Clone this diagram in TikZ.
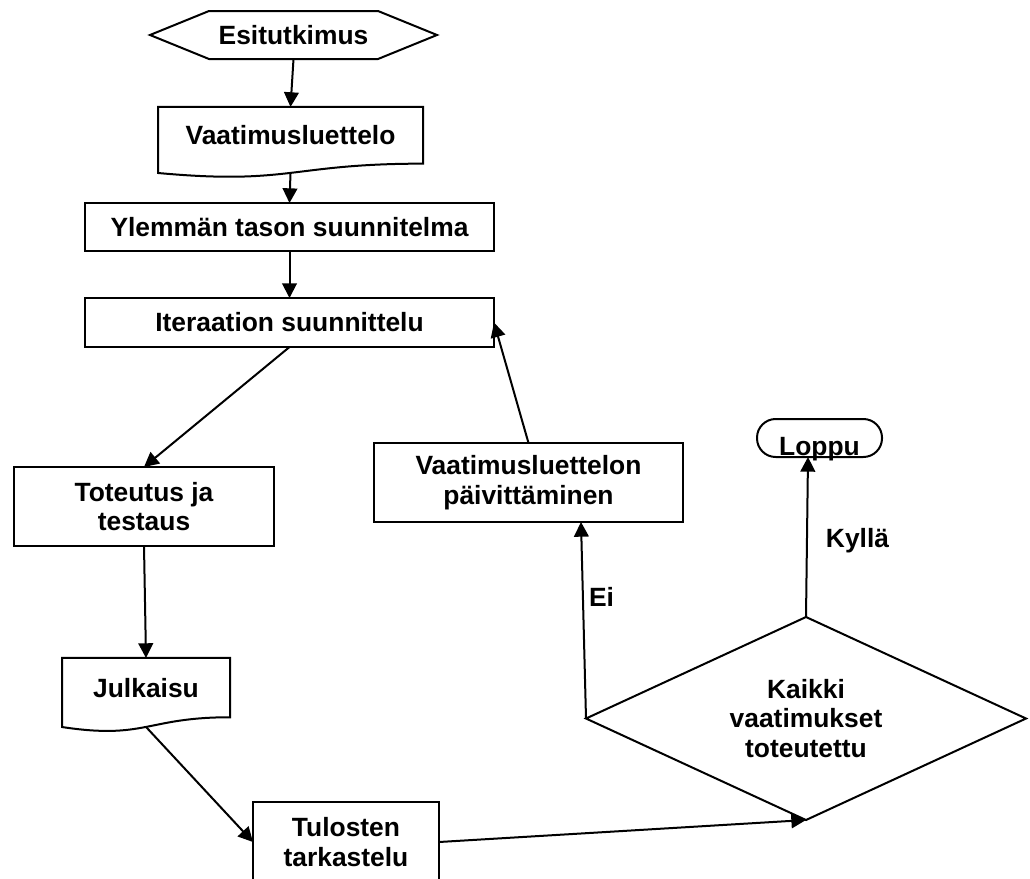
\documentclass[tikz,border=0pt]{standalone}
\usepackage{fontspec}
\setmainfont{Liberation Sans}
\usetikzlibrary{arrows.meta,calc,shapes.geometric}

% one drawing unit = one pixel of the layout grid
\newcommand{\pxu}{0.75pt}

% document symbol: rectangle with a wavy lower edge; #2 names the middle of the wave
\newcommand{\docoutline}[2]{%
  \draw[outline] (#1.north west) -- (#1.north east) -- (#1.south east)
    .. controls (#1.south) and ($(#1.north)!1.380!(#1.south)$)
    .. ($(#1.north west)!1.1646!(#1.south west)$) coordinate[pos=0.5] (#2)
    -- cycle;}

\begin{document}
\begin{tikzpicture}[x=0.75pt, y=-0.75pt,
  txt/.style={rectangle, draw=none, inner sep=0pt, outer sep=0pt, align=center,
    font=\bfseries\fontsize{19.8pt}{22pt}\selectfont},
  outline/.style={draw, line width=1.5pt, line join=miter},
  box/.style={txt, outline},
  decision/.style={txt, outline, diamond, aspect=2.17},
  terminal/.style={txt, outline, rounded corners=14pt},
  arr/.style={draw, line width=1.5pt, -{Triangle[length=11pt,width=11pt]}},
  lbl/.style={txt}]

\useasboundingbox (0,0) rectangle (1030,878);
\fill[white] (0,0) rectangle (1030,878);
\clip (0,0) rectangle (1030,878);

% ---- nodes ----
\node[txt, minimum width=287*\pxu, minimum height=48*\pxu] (esi) at (293.5,35) {Esitutkimus};
\draw[outline] (esi.west) -- ($(esi.north west)+(59,0)$) -- ($(esi.north east)+(-59,0)$)
  -- (esi.east) -- ($(esi.south east)+(-59,0)$) -- ($(esi.south west)+(59,0)$) -- cycle;

\node[txt, minimum width=265*\pxu, minimum height=56.7*\pxu] (vl) at (290.5,135.3) {Vaatimusluettelo};
\docoutline{vl}{vlb}

\node[box, minimum width=409*\pxu, minimum height=48*\pxu] (yl) at (289.5,227) {Ylemmän tason suunnitelma};
\node[box, minimum width=409*\pxu, minimum height=49*\pxu] (it) at (289.5,322.5) {Iteraation suunnittelu};
\node[box, minimum width=260*\pxu, minimum height=79*\pxu] (tot) at (144,506.5) {Toteutus ja\\testaus};

\node[txt, minimum width=168*\pxu, minimum height=59.3*\pxu] (jul) at (146,687.6) {Julkaisu};
\docoutline{jul}{julb}

\node[box, minimum width=186*\pxu, minimum height=80*\pxu] (tul) at (346,842) {Tulosten\\tarkastelu};

\node[box, minimum width=309*\pxu, minimum height=79*\pxu] (vpa) at (528.5,482.5) {Vaatimusluettelon\\päivittäminen};

\node[decision, minimum width=440*\pxu, minimum height=203*\pxu] (dia) at (806,718.5) {Kaikki\\vaatimukset\\toteutettu};

\node[terminal, minimum width=125*\pxu, minimum height=38*\pxu, text height=25.5pt, text depth=0pt] (loppu) at (819.5,438) {Loppu};

% ---- connectors ----
\draw[arr] (esi.south) -- (vl.north);
\draw[arr] (vlb) -- (yl.north);
\draw[arr] (yl.south) -- (it.north);
\draw[arr] (it.south) -- (tot.north);
\draw[arr] (tot.south) -- (jul.north);
\draw[arr] (julb) -- (tul.west);
\draw[arr] (tul.east) -- (dia.south);
\draw[arr] (dia.west) -- ($(vpa.south)+(52.5,0)$);
\draw[arr] (vpa.north) -- (it.east);
\draw[arr] (dia.north) -- ($(loppu.south)+(-11.5,0)$);

% ---- branch labels ----
\node[lbl] (ei) at (601.5,597) {Ei};
\node[lbl] (kylla) at (857.5,541) {Kyllä};

\end{tikzpicture}
\end{document}
